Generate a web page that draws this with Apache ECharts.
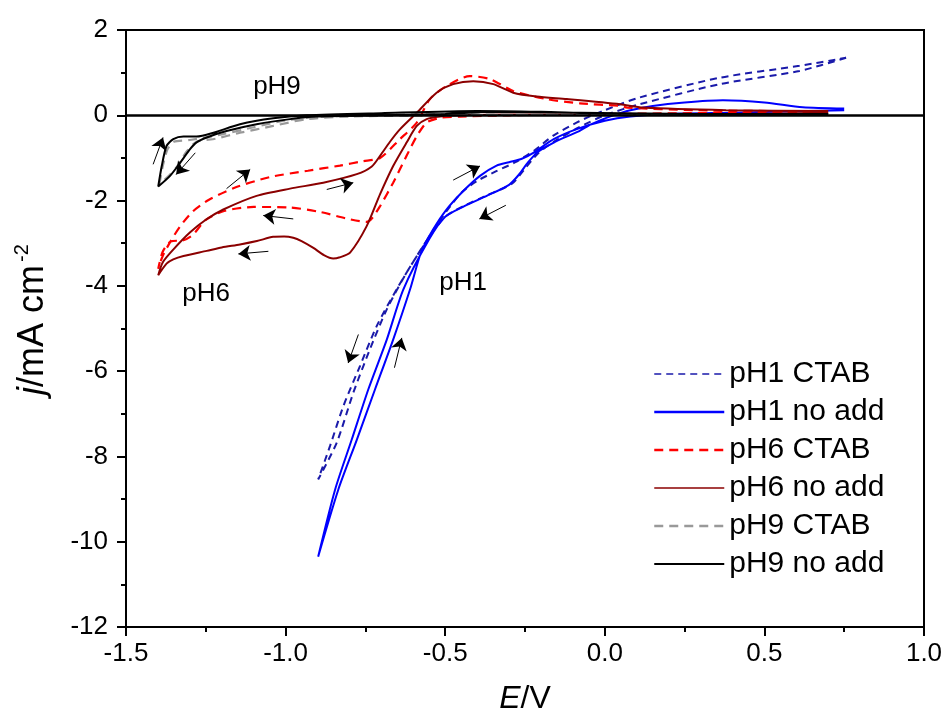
<!DOCTYPE html>
<html>
<head>
<meta charset="utf-8">
<script src="https://cdn.jsdelivr.net/npm/echarts@6/dist/echarts.min.js"></script>
<style>
html,body{margin:0;padding:0;background:#fff;}
#chart{width:951px;height:726px;}
</style>
</head>
<body>
<div id="chart"></div>
<script>
// ---- data: [E (V), j (mA cm^-2)] ----
const pH1_CTAB = [
  [0.756,1.35],[0.61,1.04],[0.36,0.73],[0.11,0.26],[0.0,0.0],[-0.08,-0.28],[-0.16,-0.62],[-0.21,-0.9],
  [-0.25,-1.25],[-0.29,-1.6],[-0.37,-1.88],[-0.44,-2.12],[-0.50,-2.38],[-0.55,-2.85],[-0.589,-3.30],
  [-0.652,-4.08],[-0.715,-4.95],[-0.767,-5.88],[-0.819,-6.82],[-0.861,-7.76],[-0.898,-8.54],
  [-0.840,-7.68],[-0.788,-6.51],[-0.736,-5.49],[-0.683,-4.55],[-0.621,-3.69],[-0.569,-3.07],
  [-0.52,-2.5],[-0.45,-1.82],[-0.40,-1.54],[-0.34,-1.31],[-0.28,-1.1],[-0.22,-0.82],[-0.16,-0.47],
  [-0.08,-0.14],[0.0,0.12],[0.11,0.42],[0.36,0.88],[0.61,1.16],[0.756,1.35]
];
const pH1_noadd = [
  [0.75,0.16],[0.62,0.19],[0.5,0.3],[0.37,0.35],[0.25,0.3],[0.15,0.22],[0.08,0.12],[0.02,-0.02],
  [-0.04,-0.2],[-0.08,-0.37],[-0.12,-0.5],[-0.16,-0.64],[-0.21,-0.86],[-0.24,-1.1],[-0.27,-1.4],
  [-0.30,-1.63],[-0.37,-1.89],[-0.44,-2.13],[-0.50,-2.38],[-0.55,-2.9],[-0.631,-4.08],[-0.683,-5.26],
  [-0.741,-6.43],[-0.793,-7.61],[-0.845,-8.78],[-0.898,-10.35],
  [-0.835,-8.78],[-0.777,-7.61],[-0.720,-6.43],[-0.663,-5.26],[-0.610,-4.08],[-0.575,-3.2],
  [-0.538,-2.68],[-0.496,-2.21],[-0.444,-1.78],[-0.391,-1.42],[-0.339,-1.18],[-0.30,-1.1],
  [-0.26,-1.02],[-0.224,-0.88],[-0.16,-0.56],[-0.09,-0.33],[0.0,-0.13],[0.08,-0.03],[0.2,0.03],
  [0.4,0.06],[0.75,0.12]
];
const pH6_CTAB = [
  [0.695,0.09],[0.4,0.06],[0.0,0.03],[-0.3,0.0],[-0.454,-0.03],[-0.516,-0.06],[-0.558,-0.17],
  [-0.589,-0.49],[-0.621,-0.95],[-0.663,-1.58],[-0.704,-2.13],[-0.73,-2.42],[-0.746,-2.5],
  [-0.81,-2.42],[-0.89,-2.27],[-0.99,-2.16],[-1.10,-2.15],[-1.19,-2.24],[-1.25,-2.45],[-1.29,-2.8],
  [-1.32,-2.93],[-1.36,-2.96],[-1.385,-3.2],[-1.399,-3.6],
  [-1.385,-3.3],[-1.36,-2.95],[-1.33,-2.6],[-1.29,-2.25],[-1.24,-1.98],[-1.16,-1.7],[-1.05,-1.45],
  [-0.93,-1.3],[-0.83,-1.18],[-0.76,-1.08],[-0.704,-1.0],[-0.642,-0.56],[-0.589,-0.17],[-0.548,0.38],
  [-0.495,0.69],[-0.423,0.92],[-0.36,0.85],[-0.287,0.57],[-0.182,0.38],[-0.078,0.28],[0.048,0.22],
  [0.07,0.18],[0.28,0.12],[0.695,0.09]
];
const pH6_noadd = [
  [0.70,0.06],[0.4,0.03],[0.0,0.02],[-0.3,0.02],[-0.45,0.0],[-0.516,-0.03],[-0.558,-0.09],
  [-0.589,-0.25],[-0.621,-0.64],[-0.663,-1.19],[-0.704,-1.85],[-0.746,-2.60],[-0.798,-3.22],
  [-0.83,-3.33],[-0.851,-3.36],[-0.88,-3.28],[-0.913,-3.11],[-0.95,-2.95],[-0.976,-2.87],
  [-1.005,-2.84],[-1.039,-2.85],[-1.09,-2.95],[-1.143,-3.03],[-1.2,-3.1],[-1.247,-3.18],
  [-1.32,-3.30],[-1.352,-3.38],[-1.373,-3.48],[-1.399,-3.75],
  [-1.385,-3.45],[-1.352,-3.15],[-1.30,-2.75],[-1.25,-2.45],[-1.195,-2.21],[-1.091,-1.89],
  [-0.986,-1.72],[-0.882,-1.58],[-0.777,-1.38],[-0.73,-1.2],[-0.704,-0.95],[-0.673,-0.62],
  [-0.642,-0.33],[-0.589,0.06],[-0.527,0.53],[-0.475,0.73],[-0.412,0.80],[-0.349,0.73],
  [-0.287,0.53],[-0.214,0.44],[-0.119,0.38],[0.048,0.26],[0.12,0.18],[0.38,0.12],[0.70,0.10]
];
const pH9_CTAB = [
  [0.7,0.02],[0.0,0.02],[-0.5,0.0],[-0.8,-0.03],[-0.934,-0.09],[-1.039,-0.25],[-1.143,-0.41],
  [-1.22,-0.55],[-1.279,-0.62],[-1.31,-0.85],[-1.34,-1.2],[-1.37,-1.45],[-1.395,-1.6],
  [-1.385,-1.2],[-1.37,-0.8],[-1.35,-0.62],[-1.30,-0.58],[-1.2,-0.45],[-1.1,-0.28],[-1.0,-0.12],
  [-0.9,-0.04],[-0.6,0.02],[0.7,0.02]
];
const pH9_noadd = [
  [0.70,0.02],[0.3,0.03],[-0.2,0.07],[-0.35,0.08],[-0.5,0.03],[-0.7,0.0],[-0.9,-0.03],
  [-0.986,-0.09],[-1.091,-0.21],[-1.185,-0.37],[-1.247,-0.52],[-1.28,-0.64],[-1.30,-0.80],
  [-1.33,-1.11],[-1.362,-1.42],[-1.399,-1.67],
  [-1.388,-1.19],[-1.373,-0.72],[-1.352,-0.56],[-1.320,-0.50],[-1.279,-0.50],[-1.226,-0.41],
  [-1.143,-0.21],[-1.039,-0.07],[-0.934,0.0],[-0.7,0.05],[-0.4,0.1],[-0.2,0.08],[0.0,0.04],[0.7,0.03]
];
// annotation arrows: [tailE, tailJ, tipE, tipJ]
const arrows = [
  [-1.415,-1.15,-1.384,-0.52],
  [-1.283,-0.88,-1.343,-1.39],
  [-1.185,-1.72,-1.111,-1.27],
  [-0.871,-1.74,-0.788,-1.58],
  [-0.976,-2.43,-1.07,-2.35],
  [-1.054,-3.19,-1.148,-3.25],
  [-0.475,-1.52,-0.391,-1.19],
  [-0.31,-2.11,-0.393,-2.43],
  [-0.772,-5.14,-0.804,-5.81],
  [-0.659,-5.92,-0.636,-5.22]
];
// text labels: [E, j, text]
const textLabels = [
  [-1.027,0.66,'pH9'],
  [-1.249,-4.18,'pH6'],
  [-0.444,-3.92,'pH1']
];
const legendNames = ['pH1 CTAB','pH1 no add','pH6 CTAB','pH6 no add','pH9 CTAB','pH9 no add'];
const xTicks = {min:-1.5, max:1.0, interval:0.5};
const yTicks = {min:-12, max:2, interval:2};

const FONT = 'Liberation Sans';
function lineSeries(name, data, color, width, dash) {
  return {
    name: name, type: 'line', data: data, showSymbol: false, symbol: 'none',
    smooth: 0.25, clip: true,
    lineStyle: {color: color, width: width, type: dash || 'solid'},
    itemStyle: {color: color},
    emphasis: {disabled: true}, animation: false, z: 3
  };
}

const series = [
  lineSeries(legendNames[0], pH1_CTAB, '#1a1aaa', 2, [7,5]),
  lineSeries(legendNames[1], pH1_noadd, '#0000ff', 2),
  lineSeries(legendNames[2], pH6_CTAB, '#ff0000', 2.2, [9,6]),
  lineSeries(legendNames[3], pH6_noadd, '#8b0000', 2),
  lineSeries(legendNames[4], pH9_CTAB, '#999999', 2.2, [9,6]),
  lineSeries(legendNames[5], pH9_noadd, '#000000', 2)
];
// zero line, arrows, text labels
series.push({
  type: 'line', data: [], silent: true, animation: false, z: 5,
  markLine: {
    silent: true, animation: false, symbol: ['none','none'],
    lineStyle: {color: '#000', width: 2.5, type: 'solid'},
    label: {show: false},
    data: [{yAxis: 0}]
  },
  markPoint: {
    silent: true, animation: false, symbol: 'circle', symbolSize: 1,
    itemStyle: {color: 'rgba(0,0,0,0)'},
    label: {show: true, position: 'inside', color: '#000', fontSize: 26, fontFamily: FONT,
            formatter: p => p.data.txt},
    data: textLabels.map(t => ({coord: [t[0], t[1]], txt: t[2]}))
  }
});
series.push({
  type: 'line', data: [], silent: true, animation: false, z: 6,
  markLine: {
    silent: true, animation: false, symbol: ['none','arrow'], symbolSize: 12,
    lineStyle: {color: '#000', width: 1, type: 'solid'},
    itemStyle: {color: '#000'},
    label: {show: false},
    data: arrows.map(a => [{coord: [a[0], a[1]]}, {coord: [a[2], a[3]]}])
  }
});

const legendWidths = [1.3, 2.5, 2.5, 1.3, 2.5, 2.2];
const chart = echarts.init(document.getElementById('chart'), null, {renderer: 'canvas'});
chart.setOption({
  backgroundColor: '#fff',
  animation: false,
  grid: {left: 126, right: 27, top: 30, bottom: 99, show: true, borderColor: '#000', borderWidth: 2, backgroundColor: 'transparent'},
  xAxis: {
    type: 'value', min: xTicks.min, max: xTicks.max, interval: xTicks.interval,
    axisLine: {show: true, onZero: false, lineStyle: {color: '#000', width: 2}},
    axisTick: {show: true, inside: false, length: 9, lineStyle: {color: '#000', width: 2}},
    minorTick: {show: true, splitNumber: 2, length: 5, lineStyle: {color: '#000', width: 2}},
    splitLine: {show: false},
    axisLabel: {color: '#000', fontSize: 26, fontFamily: FONT, margin: 14,
                formatter: v => v.toFixed(1)},
    name: '{i|E}/V', nameLocation: 'middle', nameGap: 56,
    nameTextStyle: {color: '#000', fontSize: 32, fontFamily: FONT,
                    rich: {i: {fontStyle: 'italic', fontSize: 32, fontFamily: FONT, color: '#000'}}}
  },
  yAxis: {
    type: 'value', min: yTicks.min, max: yTicks.max, interval: yTicks.interval,
    axisLine: {show: true, onZero: false, lineStyle: {color: '#000', width: 2}},
    axisTick: {show: true, inside: false, length: 9, lineStyle: {color: '#000', width: 2}},
    minorTick: {show: true, splitNumber: 2, length: 5, lineStyle: {color: '#000', width: 2}},
    splitLine: {show: false},
    axisLabel: {color: '#000', fontSize: 26, fontFamily: FONT, margin: 18},
    name: '{i|j}/mA cm{sup|-2}', nameLocation: 'middle', nameGap: 72, nameRotate: 90,
    nameTextStyle: {color: '#000', fontSize: 36, fontFamily: FONT, padding: [0,0,0,18],
                    rich: {i: {fontStyle: 'italic', fontSize: 36, fontFamily: FONT, color: '#000'},
                           sup: {fontSize: 20, fontFamily: FONT, color: '#000', verticalAlign: 'top', padding: [0,0,22,3]}}}
  },
  legend: {
    data: legendNames.map((n, i) => ({name: n, lineStyle: {width: legendWidths[i]}})),
    orient: 'vertical', left: 648, top: 354,
    itemWidth: 70, itemHeight: 14, itemGap: 8,
    itemStyle: {opacity: 0},
    textStyle: {color: '#000', fontSize: 30, fontFamily: FONT, padding: [0,0,0,0]},
    selectedMode: false
  },
  series: series
});
</script>
</body>
</html>
